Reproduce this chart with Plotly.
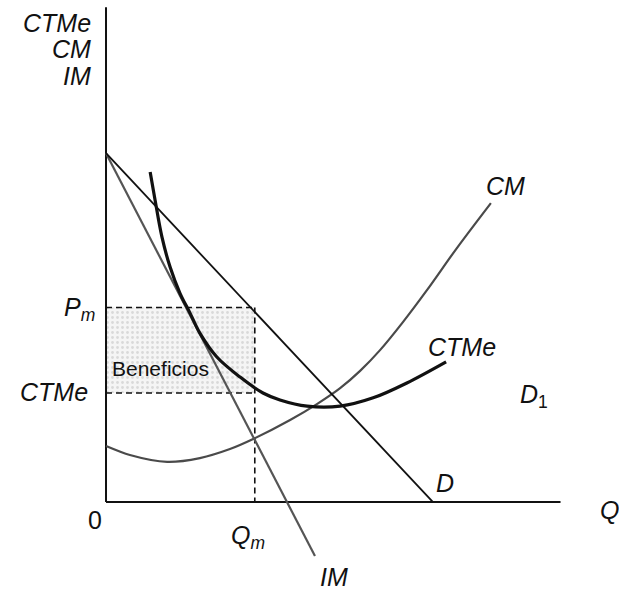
import plotly.graph_objects as go

# ---- data (economic units) ----
demand_q = [0.0, 10.0]
demand_p = [10.08, 0.0]

im_q = [0.0, 6.39]
im_p = [10.08, -1.56]

cm_q = [0.0, 0.73, 1.87, 2.87, 3.79, 4.50, 5.63, 6.45, 7.16, 7.77, 8.38, 9.08, 9.82, 10.73, 11.77]
cm_p = [1.62, 1.36, 1.16, 1.27, 1.53, 1.82, 2.37, 2.83, 3.29, 3.79, 4.39, 5.20, 6.13, 7.34, 8.64]

ctme_q = [1.35, 1.50, 1.71, 1.96, 2.26, 2.57, 2.87, 3.39, 4.10, 4.80, 5.32, 6.15, 7.16, 8.17, 9.20, 10.40]
ctme_p = [9.54, 8.73, 7.66, 6.79, 6.04, 5.46, 4.88, 4.19, 3.61, 3.15, 2.95, 2.77, 2.77, 3.01, 3.44, 4.05]

Qm = 4.55
Pm = 5.62
CTMe_m = 3.15

axis_top = 14.3
axis_right = 13.9

FONT = "Liberation Sans"
INK = "#111111"

fig = go.Figure()

# Beneficios shaded rectangle
fig.add_trace(go.Scatter(
    x=[0, Qm, Qm, 0, 0], y=[CTMe_m, CTMe_m, Pm, Pm, CTMe_m],
    mode="lines", line=dict(width=0), fill="toself",
    fillcolor="rgba(235,235,235,0.6)",
    fillpattern=dict(shape=".", fgcolor="#bdbdbd", bgcolor="#f5f5f5", size=5, solidity=0.25),
    hoverinfo="skip", showlegend=False))

# dashed guides
dash = dict(color=INK, width=1.6, dash="6px,4px")
fig.add_trace(go.Scatter(x=[0, Qm], y=[Pm, Pm], mode="lines", line=dash, showlegend=False))
fig.add_trace(go.Scatter(x=[0, Qm], y=[CTMe_m, CTMe_m], mode="lines", line=dash, showlegend=False))
fig.add_trace(go.Scatter(x=[Qm, Qm], y=[Pm, 0], mode="lines", line=dash, showlegend=False))

# axes
fig.add_trace(go.Scatter(x=[0, 0], y=[0, axis_top], mode="lines",
                         line=dict(color=INK, width=2), showlegend=False))
fig.add_trace(go.Scatter(x=[0, axis_right], y=[0, 0], mode="lines",
                         line=dict(color=INK, width=2), showlegend=False))

# curves
fig.add_trace(go.Scatter(x=cm_q, y=cm_p, mode="lines",
                         line=dict(color="#4a4a4a", width=2.2, shape="spline", smoothing=0.8), showlegend=False))
fig.add_trace(go.Scatter(x=im_q, y=im_p, mode="lines", line=dict(color="#555555", width=2.2), showlegend=False))
fig.add_trace(go.Scatter(x=demand_q, y=demand_p, mode="lines", line=dict(color=INK, width=1.8), showlegend=False))
fig.add_trace(go.Scatter(x=ctme_q, y=ctme_p, mode="lines",
                         line=dict(color=INK, width=3.2, shape="spline", smoothing=1.0), showlegend=False))

def lab(text, x, y, xanchor="center", yanchor="middle", size=25):
    fig.add_annotation(x=x, y=y, text=text, showarrow=False, xanchor=xanchor, yanchor=yanchor,
                       font=dict(family=FONT, size=size, color=INK))

lab("<i>CTMe</i>", -0.40, 13.84, xanchor="right")
lab("<i>CM</i>", -0.40, 13.09, xanchor="right")
lab("<i>IM</i>", -0.40, 12.31, xanchor="right")
lab("<i>P</i><sub><i>m</i></sub>", -0.27, Pm - 0.05, xanchor="right")
lab("<i>CTMe</i>", -0.48, CTMe_m + 0.03, xanchor="right")
lab("Beneficios", 1.68, 3.87, size=21)
lab("0", -0.34, -0.52, size=25)
lab("<i>Q</i><sub><i>m</i></sub>", Qm - 0.2, -1.0)
lab("<i>IM</i>", 6.98, -2.18)
lab("<i>D</i>", 10.37, 0.55)
lab("<i>Q</i>", 15.4, -0.23)
lab("<i>D</i><sub>1</sub>", 13.1, 3.05)
lab("<i>CTMe</i>", 10.9, 4.48)
lab("<i>CM</i>", 12.22, 9.13)

fig.update_layout(
    width=619, height=591,
    margin=dict(l=0, r=0, t=0, b=0),
    paper_bgcolor="white", plot_bgcolor="white",
    xaxis=dict(range=[-3.242, 15.688], visible=False, fixedrange=True),
    yaxis=dict(range=[-2.572, 14.509], visible=False, fixedrange=True),
    showlegend=False,
)

fig.write_html("out.html", config={"displayModeBar": False},
               post_script="document.body.style.margin='0';document.body.style.overflow='hidden';")
